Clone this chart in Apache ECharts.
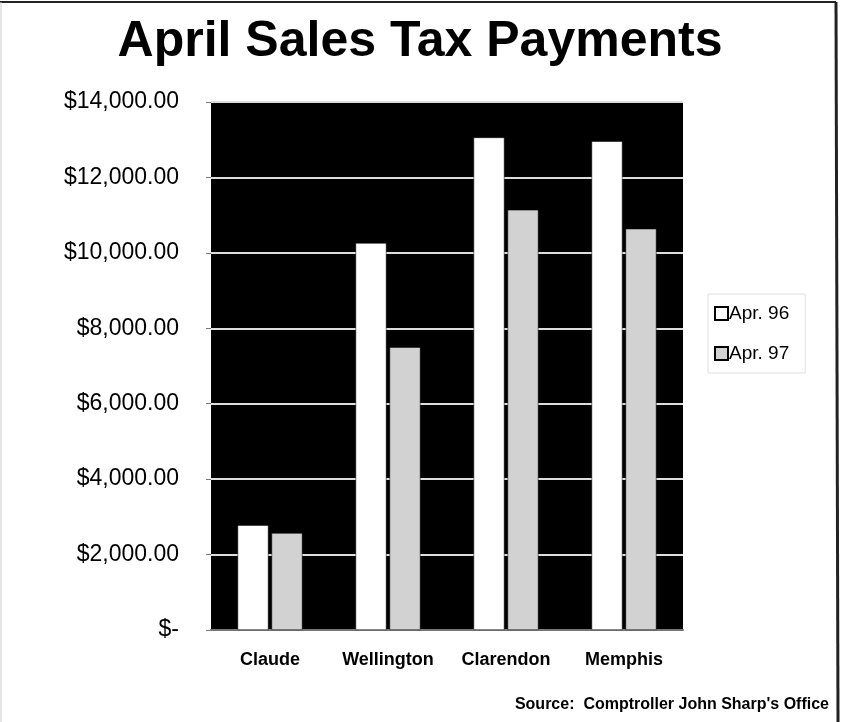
<!DOCTYPE html>
<html><head><meta charset="utf-8">
<script src="https://cdn.jsdelivr.net/npm/echarts@6/dist/echarts.min.js"></script>
<style>html,body{margin:0;padding:0;background:#fff}#c{width:857px;height:722px}</style>
</head><body><div id="c"></div>
<script>
const categories = ['Claude', 'Wellington', 'Clarendon', 'Memphis'];
const apr96 = [2780, 10260, 13060, 12960];
const apr97 = [2570, 7500, 11140, 10640];
const seriesNames = ['Apr. 96', 'Apr. 97'];
const yTicks = [0, 2000, 4000, 6000, 8000, 10000, 12000, 14000];

const chart = echarts.init(document.getElementById('c'), null, {renderer: 'canvas'});
const fmt = v => v === 0 ? '$-' : '$' + v.toLocaleString('en-US', {minimumFractionDigits: 2, maximumFractionDigits: 2});
chart.setOption({
  animation: false,
  backgroundColor: '#fff',
  textStyle: {fontFamily: 'Liberation Sans'},
  title: {
    text: 'April Sales Tax Payments',
    left: 415, top: 12, textAlign: 'center',
    textStyle: {fontFamily: 'Liberation Sans', fontWeight: 'bold', fontSize: 50, color: '#000'}
  },
  legend: {
    orient: 'vertical', left: 708, top: 294,
    itemWidth: 13, itemHeight: 13, itemGap: 21,
    padding: [10, 16, 10, 6],
    borderColor: '#e0e0e0', borderWidth: 1,
    textStyle: {fontSize: 19, color: '#000', padding: [0, 0, 0, -4]},
    data: seriesNames.map(n => ({name: n, icon: 'rect'}))
  },
  grid: {left: 211, right: 174, top: 102, bottom: 92, containLabel: false,
         show: true, backgroundColor: '#000', borderWidth: 0},
  xAxis: {
    type: 'category', data: categories,
    axisLine: {show: true, lineStyle: {color: '#777', width: 2}},
    axisTick: {show: false},
    axisLabel: {fontSize: 18, color: '#000', margin: 21, fontWeight: 'bold', interval: 0}
  },
  yAxis: {
    type: 'value', min: 0, max: 14000, interval: 2000,
    axisLine: {show: false},
    axisTick: {show: true, length: 5, lineStyle: {color: '#777'}},
    splitLine: {show: true, lineStyle: {color: '#ddd', width: 2}},
    axisLabel: {fontSize: 23, color: '#000', margin: 32, formatter: fmt}
  },
  series: [
    {name: seriesNames[0], type: 'bar', data: apr96, barCategoryGap: '45%', barGap: '10%',
     itemStyle: {color: '#fff', borderColor: '#000', borderWidth: 0.5}, z: 3},
    {name: seriesNames[1], type: 'bar', data: apr97,
     itemStyle: {color: '#d2d2d2', borderColor: '#000', borderWidth: 0.5}, z: 3}
  ],
  graphic: [
    {type: 'line', shape: {x1: 0, y1: 2, x2: 836, y2: 2}, style: {stroke: '#222', lineWidth: 2}},
    {type: 'line', shape: {x1: 836, y1: 2, x2: 838, y2: 722}, style: {stroke: '#222', lineWidth: 3}},
    {type: 'line', shape: {x1: 1, y1: 2, x2: 1, y2: 722}, style: {stroke: '#ccc', lineWidth: 1}},
    {type: 'text', right: 28, top: 697,
     style: {text: "Source:  Comptroller John Sharp's Office", font: 'bold 16px "Liberation Sans"', fill: '#000'}}
  ]
});
</script></body></html>
